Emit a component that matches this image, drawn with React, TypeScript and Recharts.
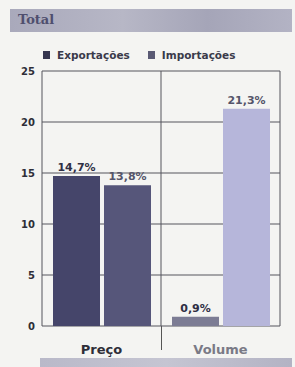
import React from "react";
import {
  Bar,
  BarChart,
  CartesianGrid,
  Cell,
  LabelList,
  XAxis,
  YAxis,
} from "recharts";

const categories = ["Preço", "Volume"];
const exportacoes = [14.7, 0.9];
const importacoes = [13.8, 21.3];
const yTicks = [0, 5, 10, 15, 20, 25];
const seriesNames = ["Exportações", "Importações"];

const exportColors = ["#45456a", "#7c7c94"];
const importColors = ["#56567a", "#b6b6da"];
const legendColors = ["#35354f", "#5a5a74"];

const data = categories.map((c, i) => ({
  cat: c,
  exportacoes: exportacoes[i],
  importacoes: importacoes[i],
}));

const fmt = (v: number) => v.toFixed(1).replace(".", ",") + "%";

const font = "'DejaVu Sans', Verdana, sans-serif";

function LegendBox() {
  return (
    <div
      style={{
        position: "absolute",
        top: 49,
        left: 43,
        fontFamily: font,
        fontSize: 10.5,
        fontWeight: "bold",
        color: "#3a3a4a",
        display: "flex",
      }}
    >
      {seriesNames.map((name, i) => (
        <span
          key={name}
          style={{ display: "inline-flex", alignItems: "center", marginLeft: i === 0 ? 0 : 18 }}
        >
          <span
            style={{
              width: 7,
              height: 8,
              background: legendColors[i],
              display: "inline-block",
              marginRight: 7,
            }}
          />
          <span>{name}</span>
        </span>
      ))}
    </div>
  );
}

function CatTick({ x, y, payload }: any) {
  return (
    <text
      x={x}
      y={y + 20}
      textAnchor="middle"
      fontFamily={font}
      fontSize={13}
      fontWeight="bold"
      fill={payload.index === 0 ? "#2e2e38" : "#7a7a86"}
    >
      {payload.value}
    </text>
  );
}

export default function App() {
  return (
    <div
      style={{
        position: "absolute",
        top: 0,
        left: 0,
        width: 295,
        height: 367,
        background: "#f4f4f2",
        overflow: "hidden",
      }}
    >
      <div
        style={{
          position: "absolute",
          top: 9,
          left: 10,
          width: 282,
          height: 23,
          background: "linear-gradient(90deg, #a9a9bb, #b7b7c6 40%, #a5a5b8 70%, #b3b3c4)",
        }}
      >
        <span
          style={{
            position: "absolute",
            left: 8,
            top: 3,
            fontFamily: "'DejaVu Serif', serif",
            fontWeight: "bold",
            fontSize: 13,
            color: "#4f4f6e",
          }}
        >
          Total
        </span>
      </div>
      <div
        style={{
          position: "absolute",
          top: 358,
          left: 40,
          width: 252,
          height: 9,
          background: "linear-gradient(90deg, #b9b9c9, #c5c5d2 50%, #b3b3c4)",
        }}
      />
      <div
        style={{
          position: "absolute",
          top: 326,
          left: 161,
          width: 1,
          height: 24,
          background: "#555",
        }}
      />
      <LegendBox />
      <BarChart
        width={295}
        height={367}
        data={data}
        margin={{ top: 71, right: 15, bottom: 0, left: 0 }}
        barGap={4}
        barCategoryGap={11}
        style={{ position: "absolute", top: 0, left: 0 }}
      >
        <CartesianGrid
          stroke="#55555c"
          strokeWidth={1}
          verticalCoordinatesGenerator={({ offset }: any) => [
            offset.left,
            offset.left + offset.width / 2,
            offset.left + offset.width,
          ]}
        />
        <XAxis
          dataKey="cat"
          height={41}
          axisLine={false}
          tickLine={false}
          tick={<CatTick />}
        />
        <YAxis
          width={42}
          domain={[0, 25]}
          ticks={yTicks}
          axisLine={false}
          tickLine={false}
          tickSize={0}
          tickMargin={7}
          tick={{ fontFamily: font, fontSize: 10, fontWeight: "bold", fill: "#2e2e38" }}
        />
        <Bar dataKey="exportacoes" isAnimationActive={false}>
          {data.map((_, i) => (
            <Cell key={i} fill={exportColors[i]} />
          ))}
          <LabelList
            dataKey="exportacoes"
            position="top"
            formatter={(v: any) => fmt(Number(v))}
            style={{ fontFamily: font, fontSize: 11, fontWeight: "bold", fill: "#2f2f45" }}
          />
        </Bar>
        <Bar dataKey="importacoes" isAnimationActive={false}>
          {data.map((_, i) => (
            <Cell key={i} fill={importColors[i]} />
          ))}
          <LabelList
            dataKey="importacoes"
            position="top"
            formatter={(v: any) => fmt(Number(v))}
            style={{ fontFamily: font, fontSize: 11, fontWeight: "bold", fill: "#55556a" }}
          />
        </Bar>
      </BarChart>
    </div>
  );
}
